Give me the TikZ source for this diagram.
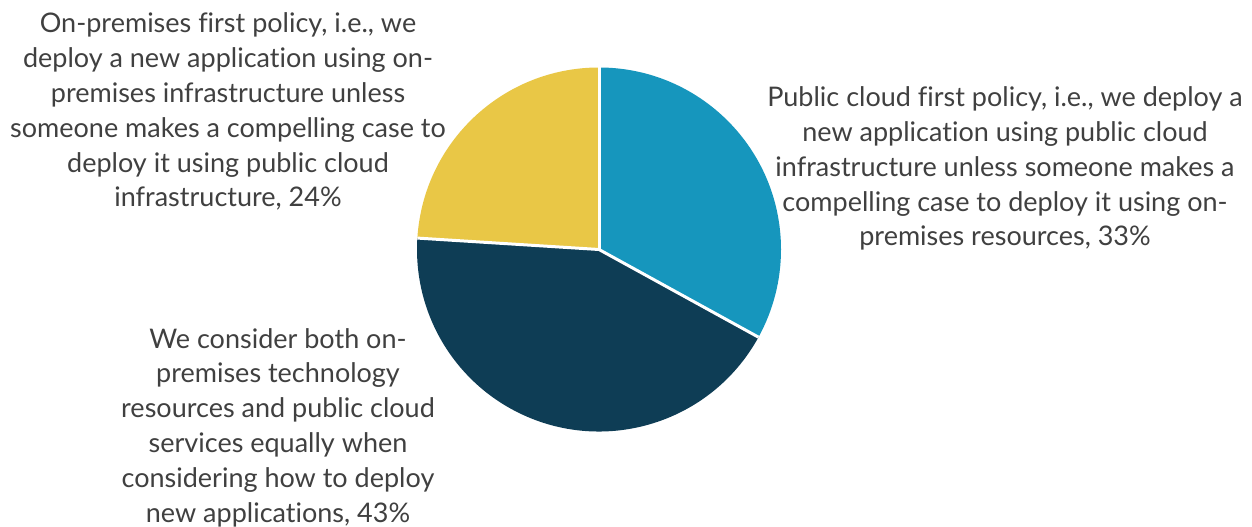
\documentclass[tikz,border=0pt]{standalone}
\usepackage{fontspec}
\setmainfont{Lato}[Ligatures={NoCommon,NoRequired,NoContextual}]
\definecolor{cblue}{HTML}{1696BD}
\definecolor{cnavy}{HTML}{0E3D55}
\definecolor{cyellow}{HTML}{E9C746}
\definecolor{ctext}{HTML}{404040}
\begin{document}
\begin{tikzpicture}[x=0.75pt,y=-0.75pt,
  lbl/.style={align=center,inner sep=0pt,text=ctext,anchor=base,
    font=\fontsize{20.25pt}{26.1pt}\selectfont},
  sep/.style={draw=white,line width=2.25pt,line join=round}]
\fill[white] (0,0) rectangle (1252,527);
\useasboundingbox (0,0) rectangle (1252,527);
\coordinate (c) at (599,249.5);
\fill[cblue] (c) -- ++(-90:182) arc[start angle=-90,end angle=28.8,radius=182] -- cycle;
\fill[cnavy] (c) -- ++(28.8:182) arc[start angle=28.8,end angle=183.6,radius=182] -- cycle;
\fill[cyellow] (c) -- ++(183.6:182) arc[start angle=183.6,end angle=270,radius=182] -- cycle;
\draw[sep] (c) -- ++(-90:182);
\draw[sep] (c) -- ++(28.8:182);
\draw[sep] (c) -- ++(183.6:182);
\node[lbl] (pub) at (1005,246) {Public cloud first policy, i.e., we deploy a\\new application using public cloud\\infrastructure unless someone makes a\\compelling case to deploy it using on-\\premises resources, 33\%};
\node[lbl] (onp) at (228,207) {On-premises first policy, i.e., we\\deploy a new application using on-\\premises infrastructure unless\\someone makes a compelling case to\\deploy it using public cloud\\infrastructure, 24\%};
\node[lbl] (both) at (278,522) {We consider both on-\\premises technology\\resources and public cloud\\services equally when\\considering how to deploy\\new applications, 43\%};
\end{tikzpicture}
\end{document}
